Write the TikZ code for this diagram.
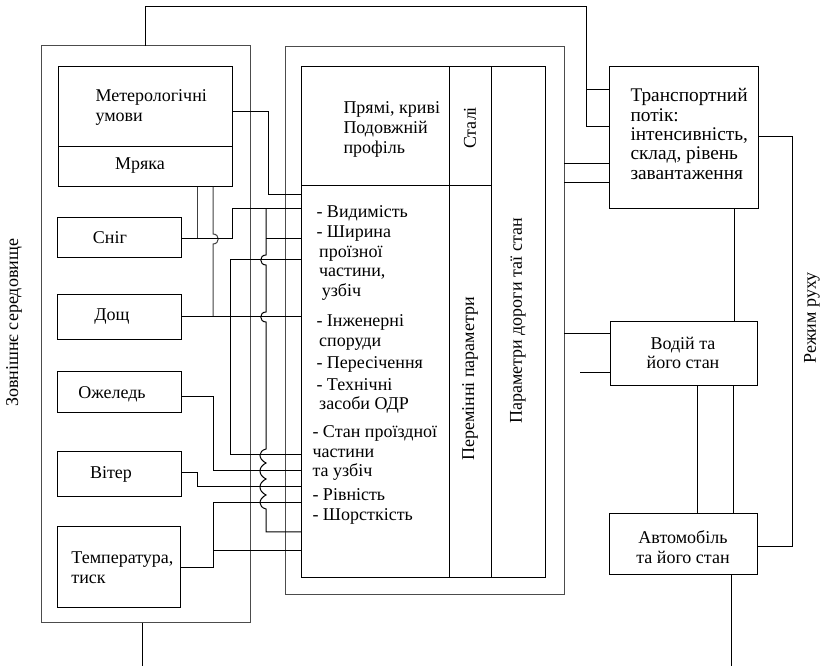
\documentclass[tikz,border=0pt]{standalone}
\usepackage{fontspec}
\setmainfont{Liberation Serif}
\tikzset{
  box/.style n args={2}{draw, inner sep=0pt, outer sep=0pt, anchor=north west,
    minimum width=#1*0.75pt, minimum height=#2*0.75pt},
  frame/.style={draw=black!70},
  txt/.style={inner sep=0pt, align=left, anchor=west},
  ctxt/.style={inner sep=0pt, align=center},
  vtxt/.style={inner sep=0pt, rotate=90},
}
\begin{document}
\begin{tikzpicture}[x=0.75pt,y=0.75pt,yscale=-1,xscale=1,line width=0.75pt,
  every node/.style={font=\fontsize{13.5}{14.8}\selectfont}]
\useasboundingbox (0,0) rectangle (826,666);
%Shape: frames
\node[box={209}{577}, frame] (env) at (41,46) {};
\node[box={279}{548}, frame] (roadout) at (285,47) {};
\node[box={244}{511}] (roadin) at (301,67) {};
%Shape: boxes of the left frame
\node[box={174}{120}] (met) at (58,67) {};
\node[box={124}{40}] (snig) at (57,218) {};
\node[box={124}{45}] (doshch) at (57,295) {};
\node[box={124}{41}] (ozh) at (57,372) {};
\node[box={124}{45}] (viter) at (57,452) {};
\node[box={123}{81}] (temp) at (57,527) {};
%Shape: boxes on the right
\node[box={149}{142}] (potik) at (609,67) {};
\node[box={147}{64}] (vodiy) at (610,322) {};
\node[box={148}{61}] (avto) at (609,514) {};
%Straight Lines: dividers
\draw (met.west |- 0,147) -- (met.east |- 0,147);
\draw (roadin.north -| 449,0) -- (roadin.south -| 449,0);
\draw (roadin.north -| 491,0) -- (roadin.south -| 491,0);
\draw (roadin.west |- 0,186) -- (491,186);

%Straight Lines: left frame to the traffic flow, and down
\draw (env.north -| 145,0) -- (145,7) -| (586,127) -- (potik.west |- 0,127);
\draw (586,90) -- (potik.west |- 0,90);
\draw (env.south -| 142,0) -- (142,666);
%Straight Lines: weather inputs
\draw (met.east |- 0,112) -| (268,195) -- (roadin.west |- 0,195);
\draw[black!75] (met.south -| 197,0) -- (197,239);
\draw[black!75] (met.south -| 213,0) -- (213,234) .. controls (220,234) and (220,244) .. (213,244) -- (213,317);
\draw (snig.east |- 0,239) -| (232,209) -- (roadin.west |- 0,209);
\draw (266,209) -- (266,255) .. controls (259,255) and (259,265) .. (266,265)
  -- (266,312) .. controls (259,312) and (259,322) .. (266,322)
  -- (266,449) .. controls (258,451) and (258,459) .. (266,463)
  .. controls (258,467) and (258,475) .. (266,479)
  .. controls (258,483) and (258,491) .. (266,495)
  .. controls (258,499) and (258,507) .. (266,509)
  -- (266,532) -- (roadin.west |- 0,532);
\draw (266,239) -- (roadin.west |- 0,239);
\draw (roadin.west |- 0,260) -| (230,455) -- (roadin.west |- 0,455);
\draw (doshch.east |- 0,317) -- (roadin.west |- 0,317);
\draw (ozh.east |- 0,397) -| (213,471) -- (roadin.west |- 0,471);
\draw (viter.east |- 0,473) -| (197,487) -- (roadin.west |- 0,487);
\draw (temp.east |- 0,568) -| (213,503) -- (roadin.west |- 0,503);
\draw (213,551) -- (roadin.west |- 0,551);
%Straight Lines: right side
\draw (roadout.east |- 0,164) -- (potik.west |- 0,164);
\draw (roadout.east |- 0,183) -- (potik.west |- 0,183);
\draw (potik.east |- 0,137) -| (792,547) -- (avto.east |- 0,547);
\draw (potik.south -| 734,0) -- (vodiy.north -| 734,0);
\draw (roadout.east |- 0,334) -- (vodiy.west |- 0,334);
\draw (580,373) -- (vodiy.west |- 0,373);
\draw (vodiy.south -| 697,0) -- (avto.north -| 697,0);
\draw (vodiy.south -| 733,0) -- (avto.north -| 733,0);
\draw (avto.south -| 731,0) -- (731,666);

% Text Node
\node[txt] (metT) at (95,107.5) {Метерологічні\\умови};
\node[ctxt] (mryakaT) at (140,166) {Мряка};
\node[ctxt] (snigT) at (110,238) {Сніг};
\node[ctxt] (doshchT) at (112,317) {Дощ};
\node[ctxt] (ozhT) at (112,394) {Ожеледь};
\node[ctxt] (viterT) at (111,474) {Вітер};
\node[txt] (tempT) at (71,568) {Температура,\\тиск};
% Text Node
\node[vtxt] (envT) at (14,323) {Зовнішнє середовище};
\node[vtxt] (rezhT) at (812,318) {Режим руху};
\node[vtxt] (staliT) at (470,128) {Сталі};
\node[vtxt] (zminT) at (470,379) {Перемінні параметри};
\node[vtxt] (paramT) at (518,321) {Параметри дороги таї стан};
% Text Node
\node[txt] (pryamT) at (343,129.5) {Прямі, криві\\Подовжній\\профіль};
\node[txt] (l1) at (316,213) {- Видимість};
\node[txt] (l2) at (316,263) {- Ширина\\\hspace*{2pt}проїзної\\\hspace*{2pt}частини,\\\hspace*{4pt}узбіч};
\node[txt] (l3) at (316,332.5) {- Інженерні\\\hspace*{2pt}споруди};
\node[txt] (l4) at (316,364) {- Пересічення};
\node[txt] (l5) at (316,396) {- Технічні\\\hspace*{2pt}засоби ОДР};
\node[txt] (l6) at (312,453) {- Стан проїздної\\частини\\та узбіч};
\node[txt] (l7) at (312,495) {- Рівність};
\node[txt] (l8) at (312,516) {- Шорсткість};
% Text Node
\node[txt, font=\fontsize{14.5}{14.6}\selectfont] (potikT) at (630,134) {Транспортний\\потік:\\інтенсивність,\\склад, рівень\\завантаження};
\node[ctxt] (vodiyT) at (683,353) {Водій та\\його стан};
\node[ctxt] (avtoT) at (683,547.5) {Автомобіль\\та його стан};
\end{tikzpicture}
\end{document}
